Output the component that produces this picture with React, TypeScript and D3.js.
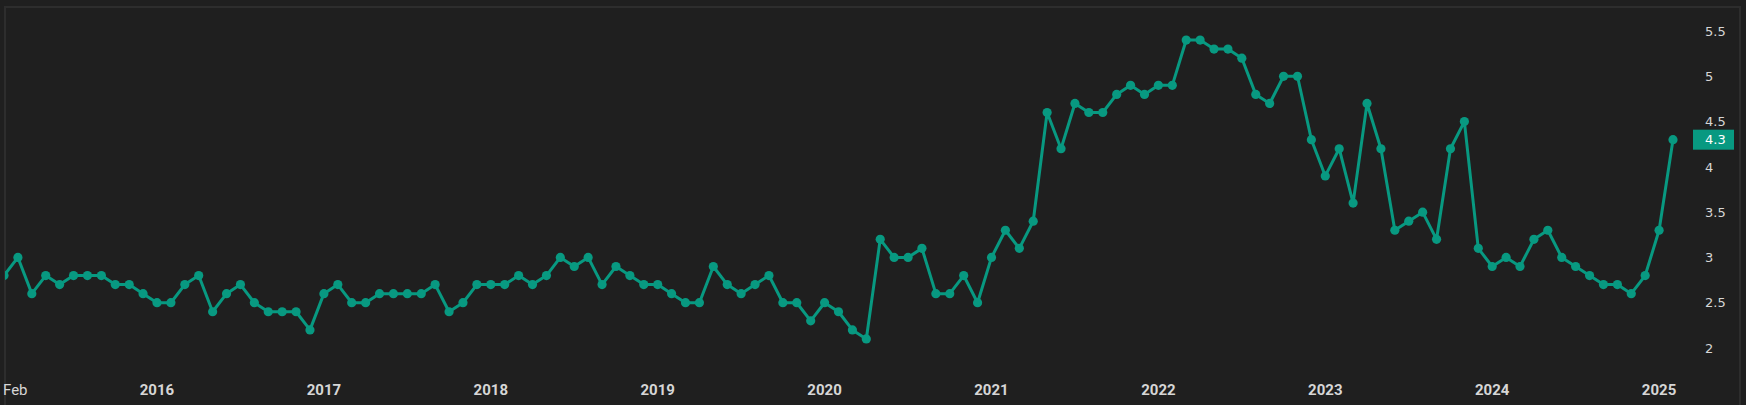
import React, { useEffect } from "react";
import * as d3 from "d3";

// Monthly values, Feb 2015 .. Feb 2025
const startMonth = 1; // 0-based: Feb
const values2015 = [2.8, 3.0, 2.6, 2.8, 2.7, 2.8, 2.8, 2.8, 2.7, 2.7, 2.6];
const values2016 = [2.5, 2.5, 2.7, 2.8, 2.4, 2.6, 2.7, 2.5, 2.4, 2.4, 2.4, 2.2];
const values2017 = [2.6, 2.7, 2.5, 2.5, 2.6, 2.6, 2.6, 2.6, 2.7, 2.4, 2.5, 2.7];
const values2018 = [2.7, 2.7, 2.8, 2.7, 2.8, 3.0, 2.9, 3.0, 2.7, 2.9, 2.8, 2.7];
const values2019 = [2.7, 2.6, 2.5, 2.5, 2.9, 2.7, 2.6, 2.7, 2.8, 2.5, 2.5, 2.3];
const values2020 = [2.5, 2.4, 2.2, 2.1, 3.2, 3.0, 3.0, 3.1, 2.6, 2.6, 2.8, 2.5];
const values2021 = [3.0, 3.3, 3.1, 3.4, 4.6, 4.2, 4.7, 4.6, 4.6, 4.8, 4.9, 4.8];
const values2022 = [4.9, 4.9, 5.4, 5.4, 5.3, 5.3, 5.2, 4.8, 4.7, 5.0, 5.0, 4.3];
const values2023 = [3.9, 4.2, 3.6, 4.7, 4.2, 3.3, 3.4, 3.5, 3.2, 4.2, 4.5, 3.1];
const values2024 = [2.9, 3.0, 2.9, 3.2, 3.3, 3.0, 2.9, 2.8, 2.7, 2.7, 2.6, 2.8];
const values2025 = [3.3, 4.3];

const yTicks = [2, 2.5, 3, 3.5, 4, 4.5, 5, 5.5];
const xTickLabels = ["Feb", "2016", "2017", "2018", "2019", "2020", "2021", "2022", "2023", "2024", "2025"];

const series = [
  ...values2015, ...values2016, ...values2017, ...values2018, ...values2019,
  ...values2020, ...values2021, ...values2022, ...values2023, ...values2024, ...values2025,
];

const W = 1746;
const H = 405;
const TEAL = "#089981";
const BG = "#1f1f1f";
const TEXT = "#d6d6d6";

export default function App() {
  useEffect(() => {
    document.body.style.margin = "0";
    document.body.style.background = BG;
  }, []);

  const n = series.length;
  const x = d3.scaleLinear().domain([0, n - 1]).range([4, 1673]);
  const y = d3.scaleLinear().domain([2, 5.5]).range([348, 31]);

  const line = d3
    .line<number>()
    .x((_, i) => x(i))
    .y((d) => y(d));

  const tickIdx = xTickLabels.map((lab, k) => (k === 0 ? 0 : 12 * k - startMonth));
  const lastVal = series[n - 1];

  return (
    <svg width={W} height={H} style={{ display: "block", background: BG }}>
      <rect x={0} y={0} width={W} height={H} fill={BG} />
      <defs>
        <clipPath id="plot">
          <rect x={5} y={7} width={1735} height={H - 7} />
        </clipPath>
      </defs>
      <path d={`M5,${H} V7 H1740 V${H}`} fill="none" stroke="#2d2d2d" strokeWidth={2} />
      <g clipPath="url(#plot)">
        <path d={line(series) || ""} fill="none" stroke={TEAL} strokeWidth={3} strokeLinejoin="round" />
        {series.map((d, i) => (
          <circle key={i} cx={x(i)} cy={y(d)} r={4.6} fill={TEAL} />
        ))}
      </g>
      {yTicks.map((t) => (
        <text key={t} x={1705} y={y(t)} dy="0.36em" fill={TEXT} fontSize={13} fontFamily="'DejaVu Sans', sans-serif">
          {d3.format("~g")(t)}
        </text>
      ))}
      <rect x={1693} y={y(lastVal) - 10} width={41} height={20} fill={TEAL} />
      <text x={1705} y={y(lastVal)} dy="0.36em" fill="#ffffff" fontSize={13} fontFamily="'DejaVu Sans', sans-serif">
        {d3.format(".1f")(lastVal)}
      </text>
      {xTickLabels.map((lab, k) => (
        <text
          key={lab}
          x={k === 0 ? 3 : x(tickIdx[k])}
          y={390}
          dy="0.36em"
          textAnchor={k === 0 ? "start" : "middle"}
          fill={TEXT}
          fontSize={15}
          fontFamily="Roboto, sans-serif"
          fontWeight={k === 0 ? 400 : 700}
        >
          {lab}
        </text>
      ))}
    </svg>
  );
}
